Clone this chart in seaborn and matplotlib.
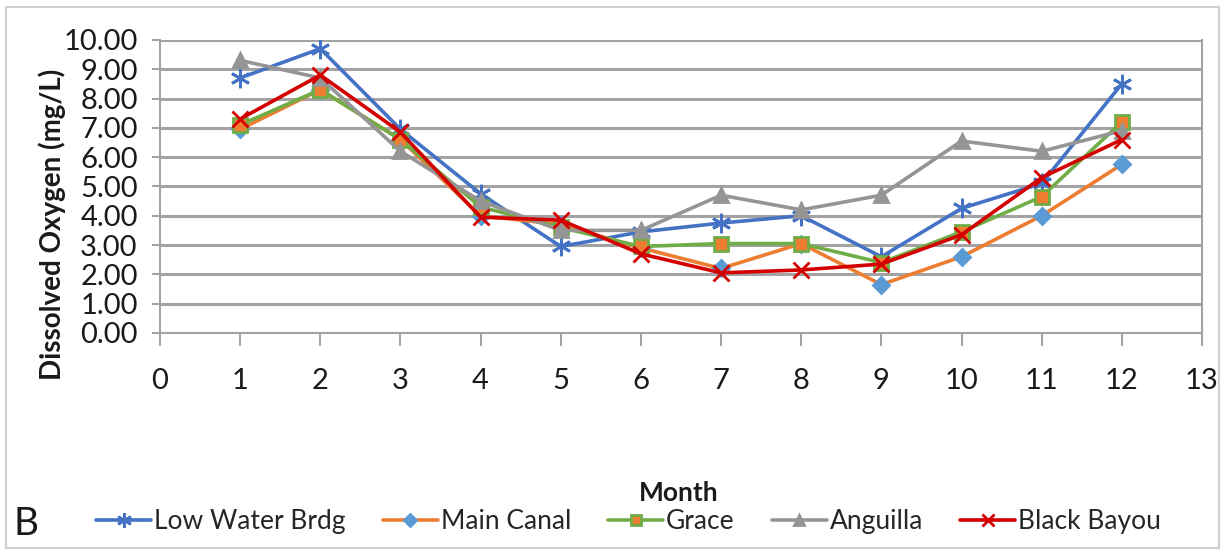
import pandas as pd
import seaborn as sns
import matplotlib.pyplot as plt
from matplotlib.patches import Rectangle

# Monthly dissolved oxygen readings (mg/L) per site
months = [1, 2, 3, 4, 5, 6, 7, 8, 9, 10, 11, 12]
low_water_brdg = [8.70, 9.70, 6.95, 4.75, 2.95, 3.45, 3.75, 4.00, 2.60, 4.25, 5.10, 8.50]
main_canal = [6.95, 8.30, 6.60, 4.00, 3.70, 2.90, 2.20, 3.05, 1.65, 2.60, 4.00, 5.75]
grace = [7.10, 8.30, 6.60, 4.30, 3.60, 2.95, 3.05, 3.05, 2.40, 3.45, 4.65, 7.20]
anguilla = [9.30, 8.70, 6.20, 4.50, 3.50, 3.50, 4.70, 4.20, 4.70, 6.55, 6.20, 6.90]
black_bayou = [7.30, 8.80, 6.85, 3.95, 3.85, 2.70, 2.05, 2.15, 2.35, 3.35, 5.30, 6.60]

sites = ['Low Water Brdg', 'Main Canal', 'Grace', 'Anguilla', 'Black Bayou']
values = [low_water_brdg, main_canal, grace, anguilla, black_bayou]

rows = []
for site, vals in zip(sites, values):
    for m, v in zip(months, vals):
        rows.append({'Month': m, 'DO': v, 'Site': site})
df = pd.DataFrame(rows)

sns.set_style('white')
plt.rcParams['font.family'] = ['Lato', 'DejaVu Sans']

# line colour, marker, marker face, marker edge, marker size
styles = {
    'Low Water Brdg': ('#4472C4', (6, 2, 0), '#4472C4', '#4472C4', 14),
    'Main Canal': ('#ED7D31', 'D', '#5B9BD5', '#5B9BD5', 8),
    'Grace': ('#70AD47', 's', '#ED7D31', '#70AD47', 10),
    'Anguilla': ('#959595', '^', '#959595', '#959595', 10),
    'Black Bayou': ('#D40000', 'x', '#D40000', '#D40000', 12),
}

fig = plt.figure(figsize=(12.25, 5.54), dpi=100)
ax = fig.add_axes([0.1306, 0.399, 0.8506, 0.5290])

for site in sites:
    color, mk, fc, ec, ms = styles[site]
    sns.lineplot(data=df[df['Site'] == site], x='Month', y='DO', ax=ax,
                 color=color, marker=mk, markerfacecolor=fc, markeredgecolor=ec,
                 markersize=ms, markeredgewidth=2, linewidth=2.6, label=site,
                 legend=False)

ax.set_xlim(0, 13)
ax.set_ylim(0, 10)
ax.set_xticks(range(0, 14))
ax.set_yticks(range(0, 11))
ax.set_yticklabels([f'{v:.2f}' for v in range(0, 11)])
ax.grid(axis='y', color='#A3A3A3', linewidth=2.2)
ax.set_axisbelow(True)
ax.spines['top'].set_visible(False)
for side in ['left', 'right', 'bottom']:
    ax.spines[side].set_color('#A3A3A3')
    ax.spines[side].set_linewidth(1.5)
ax.tick_params(axis='x', direction='out', length=9, width=1.5, color='#A3A3A3',
               pad=16, labelsize=21, labelcolor='#1a1a1a', bottom=True)
ax.tick_params(axis='y', direction='out', length=6, width=1.5, color='#A3A3A3',
               pad=10, labelsize=21, labelcolor='#1a1a1a', left=True)
ax.set_xlabel('')
ax.set_ylabel('')

fig.text(0.043, 0.595, 'Dissolved Oxygen (mg/L)', rotation=90, ha='center', va='center',
         fontsize=20, fontweight='bold', color='#1a1a1a')
fig.text(0.554, 0.11, 'Month', ha='center', va='center', fontsize=19,
         fontweight='bold', color='#1a1a1a')
fig.text(0.011, 0.055, 'B', ha='left', va='center', fontsize=28, color='#1a1a1a')

handles, labels = ax.get_legend_handles_labels()
fig.legend(handles, labels, loc='center', bbox_to_anchor=(0.513, 0.058), ncol=5,
           frameon=False, fontsize=19, handlelength=2.1, handletextpad=0.1,
           columnspacing=1.4, markerscale=0.75)

fig.patches.append(Rectangle((0.005, 0.01), 0.99, 0.978, transform=fig.transFigure,
                             fill=False, edgecolor='#D0D0D0', linewidth=1.5))

fig.savefig('out.png', dpi=100)
